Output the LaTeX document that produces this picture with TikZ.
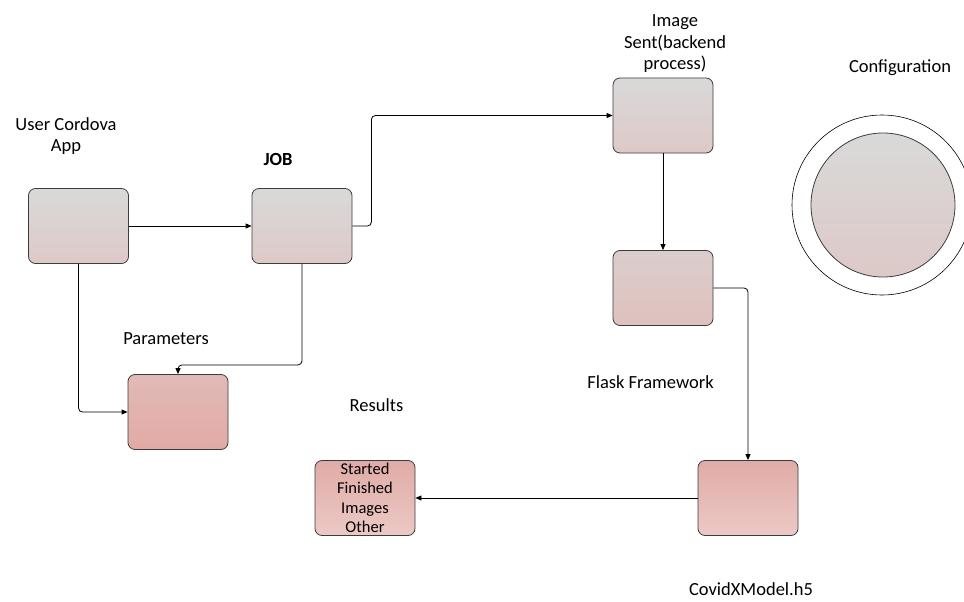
\documentclass[tikz,border=0pt]{standalone}
\usepackage{fontspec}
\setmainfont{Carlito}
\usepackage{tikz}
\usetikzlibrary{arrows.meta, calc}
\usepackage{xcolor}

\definecolor{boxgray}{RGB}{217,217,217}
\definecolor{boxpale}{RGB}{221,201,199}
\definecolor{flasktop}{RGB}{218,206,205}
\definecolor{flaskbot}{RGB}{223,192,189}
\definecolor{paramtop}{RGB}{225,186,183}
\definecolor{parambot}{RGB}{226,170,165}
\definecolor{rosetop}{RGB}{224,171,166}
\definecolor{rosebot}{RGB}{236,201,197}
\definecolor{edge}{RGB}{60,60,60}

\tikzset{
  blk/.style={draw=edge, line width=0.8pt, rounded corners=7pt,
    minimum width=100pt, minimum height=75pt, inner sep=0pt},
  grayblk/.style={blk, top color=boxgray, bottom color=boxpale},
  flaskblk/.style={blk, top color=flasktop, bottom color=flaskbot},
  paramblk/.style={blk, top color=paramtop, bottom color=parambot},
  roseblk/.style={blk, top color=rosetop, bottom color=rosebot},
  lbl/.style={inner sep=0pt, align=center, font=\fontsize{18.5}{21.5}\selectfont},
  link/.style={line width=0.8pt, rounded corners=4pt,
    -{Triangle[length=6pt, width=5pt]}}
}

\begin{document}
\begin{tikzpicture}[x=1pt, y=-1pt]
  \useasboundingbox (0,0) rectangle (964,602);

  \node[grayblk]  (user)    at (78.5, 226) {};
  \node[grayblk]  (job)     at (302, 226) {};
  \node[paramblk] (params)  at (178, 412) {};
  \node[grayblk]  (imgsent) at (663, 115.5) {};
  \node[flaskblk] (flask)   at (663, 288) {};
  \node[roseblk]  (covidx)  at (748, 498) {};
  \node[roseblk, align=center, font=\fontsize{16.5}{19.5}\selectfont]
    (results) at (365, 498) {Started\\Finished\\Images\\Other};

  \node[circle, draw=black, line width=0.6pt, minimum size=180pt] (outer) at (882, 205) {};
  \node[circle, draw=edge, line width=0.8pt, minimum size=144pt,
    top color=boxgray, bottom color=boxpale] (config) at (883, 205) {};

  \node[lbl] (userlbl) at (66, 136) {User Cordova\\App};
  \node[lbl, anchor=base, font=\fontsize{18.5}{21.5}\selectfont\bfseries] (joblbl) at (278, 165.5) {JOB};
  \node[lbl] (sentlbl) at (675, 44) {Image\\Sent(backend\\process)};
  \node[lbl, anchor=base] (conflbl) at (900, 73) {Configuration};
  \node[lbl, anchor=base] (paramlbl) at (166, 344) {Parameters};
  \node[lbl, anchor=base] (reslbl) at (376.5, 411) {Results};
  \node[lbl, anchor=base] (flasklbl) at (650.5, 388) {Flask Framework};
  \node[lbl, anchor=base] (covlbl) at (751, 595) {CovidXModel.h5};

  \draw[link] (user) -- (job);
  \draw[link] (job.east) -- ++(19,0) |- (imgsent.west);
  \draw[link] (job.south) -- ++(0,101) -| (params.north);
  \draw[link] (user.south) |- (params.west);
  \draw[link] (imgsent) -- (flask);
  \draw[link] (flask.east) -| (covidx.north);
  \draw[link] (covidx) -- (results);
\end{tikzpicture}
\end{document}
